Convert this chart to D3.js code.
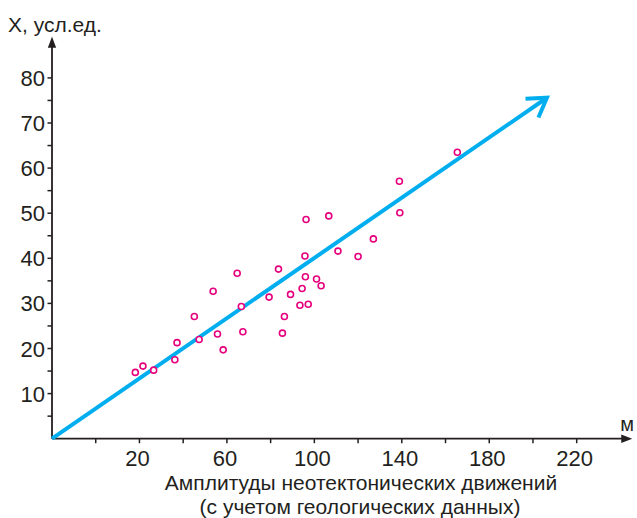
<!DOCTYPE html>
<html><head><meta charset="utf-8">
<script src="https://cdn.jsdelivr.net/npm/d3@7"></script>
<style>
html,body{margin:0;padding:0;background:#fff;}
svg{display:block;font-family:"Liberation Sans",Arial,sans-serif;}
</style></head>
<body>
<svg id="chart" width="637" height="518"></svg>
<script>
// Data
const pointsX = [18.1,21.6,26.5,36.2,37.2,45.1,47.3,53.7,55.7,58.3,64.7,66.6,67.3,79.3,83.6,86.3,85.4,89.1,93.4,94.4,95.7,95.9,96.2,97.2,101.0,103.1,106.6,110.8,120.0,127.0,139.1,138.9,165.4];
const pointsY = [14.7,16.1,15.2,17.5,21.3,27.1,22.0,32.7,23.2,19.7,36.7,29.3,23.7,31.4,37.6,27.1,23.4,32.0,29.6,33.3,40.5,35.9,48.6,29.8,35.4,33.9,49.4,41.6,40.4,44.3,50.1,57.1,63.5];
const trendX = [-20, 206.4];
const trendY = [0, 75.6];
const xTickLabels = [20,60,100,140,180,220];
const xMinorTicks = [0,40,80,120,160,200];
const yTickLabels = [10,20,30,40,50,60,70,80];
const yMinorTicks = [5,15,25,35,45,55,65,75];
const yTitle = "X, усл.ед.";
const xUnit = "м";
const xTitle1 = "Амплитуды неотектонических движений";
const xTitle2 = "(с учетом геологических данных)";

const svg = d3.select("#chart");
const ox = 52, oy = 438.7;
const x = d3.scaleLinear().domain([-20, 220]).range([ox, 576.7]);
const y = d3.scaleLinear().domain([0, 80]).range([oy, 77.9]);
const axisColor = "#231f20";

// axes
const xEnd = x(245.4), yEnd = y(89.1);
svg.append("line").attr("x1", ox).attr("y1", oy).attr("x2", xEnd - 6).attr("y2", oy)
  .attr("stroke", axisColor).attr("stroke-width", 1.8);
svg.append("line").attr("x1", ox).attr("y1", oy).attr("x2", ox).attr("y2", yEnd + 6)
  .attr("stroke", axisColor).attr("stroke-width", 1.8);
svg.append("path").attr("d", `M${xEnd},${oy} L${xEnd-11},${oy-4.2} L${xEnd-11},${oy+4.2} Z`).attr("fill", axisColor);
svg.append("path").attr("d", `M${ox},${yEnd} L${ox-4.2},${yEnd+11} L${ox+4.2},${yEnd+11} Z`).attr("fill", axisColor);

// x ticks
const xAll = xMinorTicks.concat(xTickLabels);
svg.append("g").selectAll("line").data(xAll).join("line")
  .attr("x1", d => x(d)).attr("x2", d => x(d)).attr("y1", oy).attr("y2", oy + 4.5)
  .attr("stroke", axisColor).attr("stroke-width", 1.5);
svg.append("g").selectAll("text").data(xTickLabels).join("text")
  .attr("x", d => x(d) - 2).attr("y", 465.5).attr("text-anchor", "middle")
  .attr("font-size", 22).attr("fill", axisColor).text(d => d);

// y ticks
const yAll = yMinorTicks.concat(yTickLabels);
svg.append("g").selectAll("line").data(yAll).join("line")
  .attr("x1", ox - 4.5).attr("x2", ox).attr("y1", d => y(d)).attr("y2", d => y(d))
  .attr("stroke", axisColor).attr("stroke-width", 1.5);
svg.append("g").selectAll("text").data(yTickLabels).join("text")
  .attr("x", 45).attr("y", d => y(d) + 8).attr("text-anchor", "end")
  .attr("font-size", 22).attr("fill", axisColor).text(d => d);

// titles
svg.append("text").attr("x", 8).attr("y", 32).attr("font-size", 21).attr("fill", axisColor).text(yTitle);
svg.append("text").attr("x", 627).attr("y", 431).attr("text-anchor", "middle").attr("font-size", 20).attr("fill", axisColor).text(xUnit);
svg.append("text").attr("x", 361).attr("y", 490).attr("text-anchor", "middle").attr("font-size", 21).attr("fill", axisColor).text(xTitle1);
svg.append("text").attr("x", 360).attr("y", 514).attr("text-anchor", "middle").attr("font-size", 21).attr("fill", axisColor).text(xTitle2);

// trend line with arrow
const cyan = "#00aeef";
const tx0 = x(trendX[0]), ty0 = y(trendY[0]), tx1 = x(trendX[1]), ty1 = y(trendY[1]);
svg.append("line").attr("x1", tx0).attr("y1", ty0).attr("x2", tx1 - 1.5).attr("y2", ty1 + 1)
  .attr("stroke", cyan).attr("stroke-width", 4);
const ang = Math.atan2(ty0 - ty1, tx0 - tx1);
const L = 21.5, spread = 32 * Math.PI / 180;
const a1 = [tx1 + L * Math.cos(ang + spread), ty1 + L * Math.sin(ang + spread)];
const a2 = [tx1 + L * Math.cos(ang - spread), ty1 + L * Math.sin(ang - spread)];
svg.append("path").attr("d", `M${a1[0]},${a1[1]} L${tx1},${ty1} L${a2[0]},${a2[1]}`)
  .attr("fill", "none").attr("stroke", cyan).attr("stroke-width", 4).attr("stroke-linejoin", "miter");

// points
svg.append("g").selectAll("circle").data(pointsX.map((v, i) => [v, pointsY[i]])).join("circle")
  .attr("cx", d => x(d[0])).attr("cy", d => y(d[1])).attr("r", 3)
  .attr("fill", "#fff").attr("stroke", "#e6007e").attr("stroke-width", 1.6);
</script>
</body></html>
